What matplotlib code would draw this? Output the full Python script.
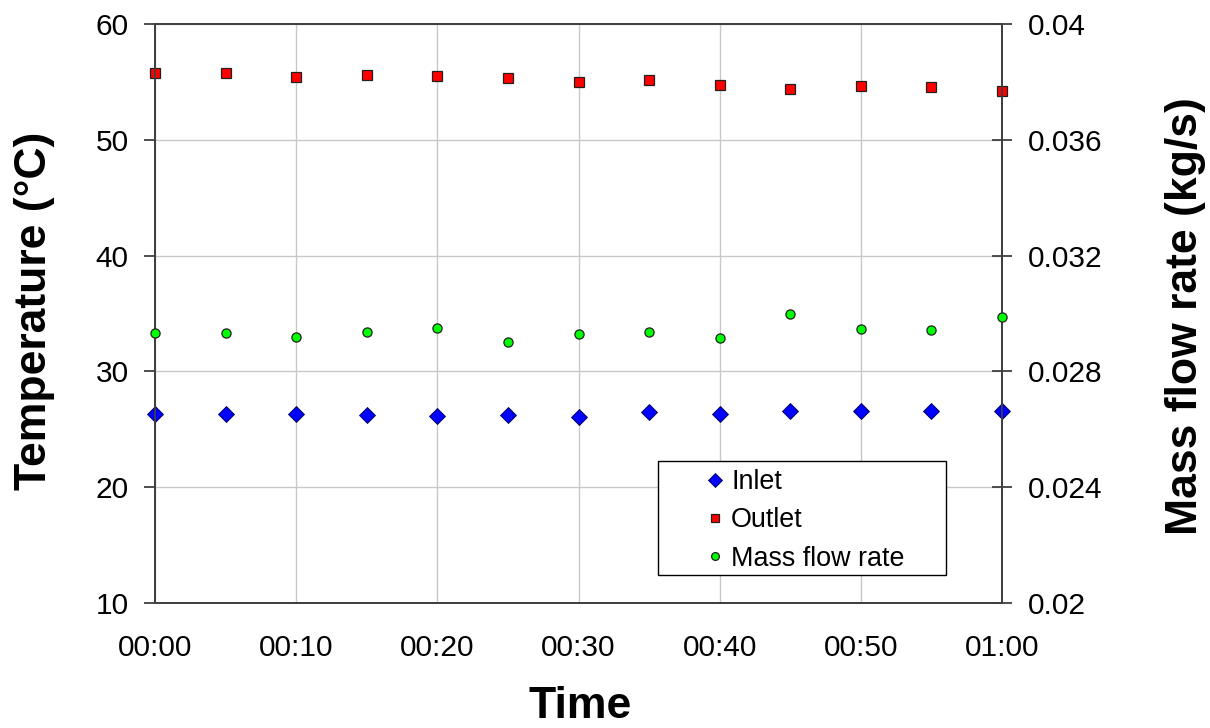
import numpy as np
import matplotlib
matplotlib.use('Agg')
import matplotlib.pyplot as plt
from matplotlib.patches import Rectangle

# Data (time in minutes)
minutes = [0, 5, 10, 15, 20, 25, 30, 35, 40, 45, 50, 55, 60]
inlet = [26.32, 26.32, 26.35, 26.21, 26.12, 26.21, 26.09, 26.47, 26.35, 26.58, 26.58, 26.58, 26.58]
outlet = [55.74, 55.74, 55.42, 55.62, 55.54, 55.31, 54.97, 55.19, 54.73, 54.39, 54.65, 54.53, 54.19]
mass_flow = [0.02933, 0.02933, 0.02919, 0.02937, 0.02951, 0.02902, 0.02928,
             0.02937, 0.02914, 0.02999, 0.02945, 0.02942, 0.02987]

x_ticks = [0, 10, 20, 30, 40, 50, 60]
x_labels = ['00:00', '00:10', '00:20', '00:30', '00:40', '00:50', '01:00']
temp_ticks = [10, 20, 30, 40, 50, 60]
flow_ticks = [0.02, 0.024, 0.028, 0.032, 0.036, 0.04]
flow_labels = ['0.02', '0.024', '0.028', '0.032', '0.036', '0.04']

plt.rcParams['font.family'] = ['Liberation Sans', 'DejaVu Sans']

axis_col = '#404040'
grid_col = '#c8c8c8'

fig = plt.figure(figsize=(12.1, 7.28), dpi=100)
ax = fig.add_axes([155/1210, 1 - 603/728, 847/1210, 579/728])
ax2 = ax.twinx()

# Left axis: temperatures
l1, = ax.plot(minutes, inlet, linestyle='none', marker='D', markersize=8.5,
              markerfacecolor='#0000ff', markeredgecolor='#000040', markeredgewidth=0.6,
              clip_on=False, zorder=3, label='Inlet')
l2, = ax.plot(minutes, outlet, linestyle='none', marker='s', markersize=7,
              markerfacecolor='#ff0000', markeredgecolor='#202020', markeredgewidth=0.9,
              clip_on=False, zorder=3, label='Outlet')

# Right axis: mass flow rate
l3, = ax2.plot(minutes, mass_flow, linestyle='none', marker='o', markersize=6.6,
               markerfacecolor='#00ff00', markeredgecolor='#202020', markeredgewidth=0.9,
               clip_on=False, zorder=3, label='Mass flow rate')

ax.set_xlim(0, 60)
ax.set_ylim(10, 60)
ax2.set_ylim(0.02, 0.04)

ax.set_xticks(x_ticks)
ax.set_xticklabels(x_labels)
ax.set_yticks(temp_ticks)
ax2.set_yticks(flow_ticks)
ax2.set_yticklabels(flow_labels)

ax.grid(True, color=grid_col, linewidth=1.0)
ax.set_axisbelow(True)

ax.tick_params(axis='x', length=0, pad=22, labelsize=21.5)
ax.tick_params(axis='y', direction='out', length=8, width=1.3, color=axis_col,
               pad=11, labelsize=21.5)
ax2.tick_params(axis='y', direction='inout', length=15, width=1.3, color=axis_col,
                pad=11, labelsize=21.5)

for a in (ax, ax2):
    for side in ['left', 'right', 'top', 'bottom']:
        a.spines[side].set_color(axis_col)
        a.spines[side].set_linewidth(1.3)

# Axis titles
fig.text(35/1210, 1 - 311/728, 'Temperature (\u00b0C)', rotation=90, ha='center',
         va='center', fontsize=32, fontweight='bold')
fig.text(1185/1210, 1 - 316/728, 'Mass flow rate (kg/s)', rotation=90, ha='center',
         va='center', fontsize=32, fontweight='bold')
fig.text(580/1210, 1 - 707/728, 'Time', ha='center', va='center',
         fontsize=32, fontweight='bold')

# Legend with its own frame
box = Rectangle(((658 - 155)/847, (603 - 575)/579), (946 - 658)/847, (575 - 461)/579,
                transform=ax2.transAxes, facecolor='white', edgecolor='black',
                linewidth=1.0, zorder=4)
ax2.add_patch(box)
ax2.legend(handles=[l1, l2, l3], loc='upper left',
           bbox_to_anchor=((701.5 - 155)/847, (603 - 469)/579),
           frameon=False, fontsize=19.4, handlelength=1.0, handletextpad=0.1,
           labelspacing=0.46, borderpad=0, borderaxespad=0, markerscale=0.85)

plt.savefig('out.png', dpi=100)
